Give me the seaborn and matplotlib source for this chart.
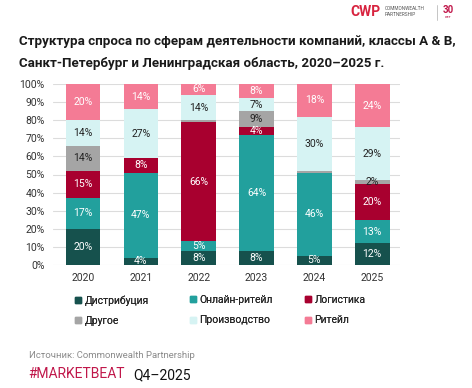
import numpy as np
import pandas as pd
import matplotlib
matplotlib.use("Agg")
import matplotlib.pyplot as plt
from matplotlib.lines import Line2D
import seaborn as sns

years = ["2020", "2021", "2022", "2023", "2024", "2025"]
categories = ["Дистрибуция", "Онлайн-ритейл", "Логистика", "Другое", "Производство", "Ритейл"]
distrib = [20, 4, 8, 8, 5, 12]
online = [17, 47, 5, 64, 46, 13]
logistics = [15, 8, 66, 4, 0, 20]
other = [14, 0, 1, 9, 1, 2]
production = [14, 27, 14, 7, 30, 29]
retail = [20, 14, 6, 8, 18, 24]
yticks = [0, 10, 20, 30, 40, 50, 60, 70, 80, 90, 100]

series = [distrib, online, logistics, other, production, retail]
colors = ["#16514d", "#22a09d", "#a8002f", "#a5a5a5", "#d6f3f3", "#f47b95"]
text_colors = ["white", "white", "white", "#222222", "#222222", "white"]

sns.set_theme(style="white")
plt.rcParams["font.family"] = ["Roboto", "DejaVu Sans"]

fig = plt.figure(figsize=(4.72, 3.88), dpi=100)
ax = fig.add_axes([53 / 472, 1 - 265 / 388, (400 - 53) / 472, (265 - 84) / 388])

vals = np.array(series, dtype=float)
cum = np.cumsum(vals, axis=0)

for i in range(len(categories) - 1, -1, -1):
    df = pd.DataFrame({"year": years, "total": cum[i]})
    sns.barplot(data=df, x="year", y="total", order=years, color=colors[i],
                width=0.6, ax=ax, saturation=1, edgecolor="none", linewidth=0, zorder=3)

for i in range(len(categories)):
    for j in range(len(years)):
        v = vals[i, j]
        if v >= 2:
            mid = cum[i, j] - v / 2
            ax.text(j, mid, f"{int(v)}%", ha="center", va="center",
                    fontsize=7.5, color=text_colors[i], zorder=5)

ax.set_ylim(0, 100)
ax.set_xlim(-0.52, 5.48)
ax.set_yticks(yticks)
ax.set_yticklabels([f"{t}%" for t in yticks], fontsize=7.5, color="#333333")
ax.tick_params(axis="x", labelsize=7.5, colors="#333333", length=0, pad=6)
ax.tick_params(axis="y", length=0, pad=6)
ax.set_xlabel("")
ax.set_ylabel("")
ax.yaxis.grid(True, color="#dcdcdc", linewidth=0.8, zorder=0)
ax.set_axisbelow(True)
for s in ax.spines.values():
    s.set_visible(False)

handles = [Line2D([0], [0], marker="s", linestyle="none", markersize=5,
                  markerfacecolor=c, markeredgecolor=c) for c in colors]
col_x = [75, 190, 305]
for k in range(3):
    idx = [k, k + 3]
    leg = fig.legend([handles[n] for n in idx], [categories[n] for n in idx],
                     ncol=1, loc="upper left",
                     bbox_to_anchor=(col_x[k] / 472, 1 - 295 / 388), frameon=False,
                     fontsize=7.5, handlelength=0.6, handletextpad=0.3,
                     labelspacing=1.0, borderaxespad=0, borderpad=0)
    fig.add_artist(leg)

fig.text(19 / 472, 1 - 42 / 388,
         "Структура спроса по сферам деятельности компаний, классы A & B,",
         fontsize=9.6, fontweight="bold", color="#1a1a1a", va="center", ha="left")
fig.text(19 / 472, 1 - 63 / 388,
         "Санкт-Петербург и Ленинградская область, 2020–2025 г.",
         fontsize=9.6, fontweight="bold", color="#1a1a1a", va="center", ha="left")

fig.text(29 / 472, 1 - 356 / 388, "Источник: Commonwealth Partnership",
         fontsize=6.8, color="#8a8a8a", va="center", ha="left")
fig.text(28 / 472, 1 - 374 / 388, "#MARKETBEAT", fontsize=10, color="#c0174a",
         va="center", ha="left")
fig.text(133 / 472, 1 - 375 / 388, "Q4–2025", fontsize=10, color="#111111",
         va="center", ha="left")

# logo
fig.text(350 / 472, 1 - 12 / 388, "CWP", fontsize=10, fontweight="bold",
         color="#d8233f", va="center", ha="left")
fig.text(385 / 472, 1 - 9 / 388, "COMMONWEALTH", fontsize=3.4, color="#555555",
         va="center", ha="left")
fig.text(385 / 472, 1 - 15 / 388, "PARTNERSHIP", fontsize=3.4, color="#555555",
         va="center", ha="left")
fig.add_artist(Line2D([437 / 472, 437 / 472], [1 - 5 / 388, 1 - 20 / 388],
                      color="#bbbbbb", linewidth=0.6))
fig.text(448 / 472, 1 - 10 / 388, "30", fontsize=7, fontweight="bold",
         color="#c0174a", va="center", ha="center")
fig.text(448 / 472, 1 - 17 / 388, "лет", fontsize=3, color="#c0174a",
         va="center", ha="center")

fig.savefig("out.png", dpi=100, facecolor="white")
